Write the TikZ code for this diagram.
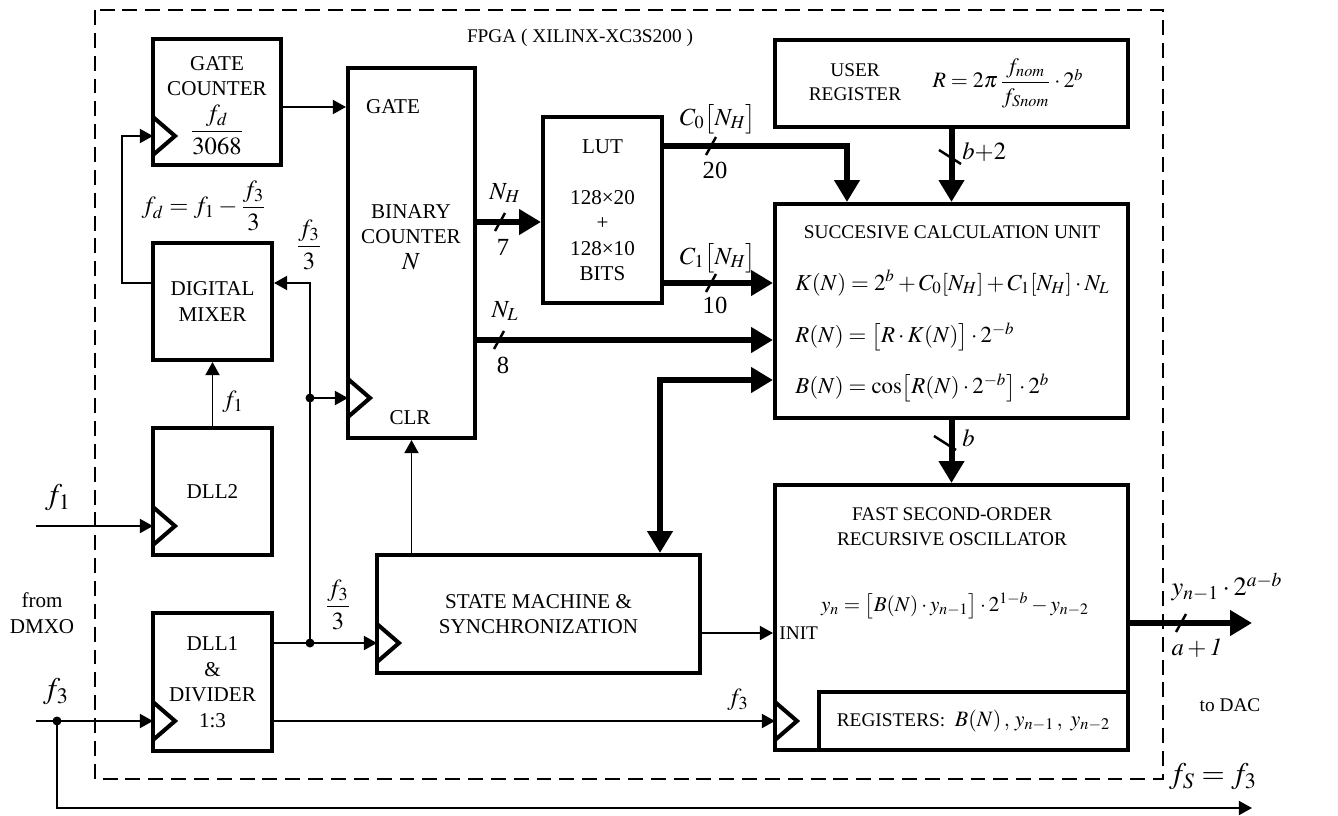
\documentclass[tikz,border=0pt]{standalone}
\usepackage{amsmath}
\usepackage{mathptmx}
\usepackage{fontspec}
\setmainfont{Liberation Serif}
\usetikzlibrary{arrows.meta,positioning}

\newdimen\px \px=0.02cm

\tikzset{
  blk/.style={draw, line width=2.3pt, inner sep=0pt, align=center,
    font=\fontsize{12}{14.5}\selectfont},
  lbl/.style={inner sep=0pt, align=center, font=\fontsize{12}{14.5}\selectfont},
  slbl/.style={inner sep=0pt, align=center, font=\fontsize{11}{14}\selectfont},
  mlbl/.style={inner sep=0pt, font=\fontsize{14}{16}\selectfont},
  biglbl/.style={inner sep=0pt, font=\fontsize{17}{19}\selectfont},
  eq/.style={inner sep=0pt, font=\fontsize{12.5}{15}\selectfont},
  sig/.style={-{Triangle[length=7.5pt,width=8pt]}, line width=1.1pt},
  bus/.style={-{Triangle[length=12.5pt,width=14pt]}, line width=3.4pt},
  busboth/.style={{Triangle[length=12.5pt,width=14pt]}-{Triangle[length=12.5pt,width=14pt]}, line width=3.4pt},
  clk/.style={line width=2.3pt, line join=miter},
  tick/.style={line width=1.4pt},
  dot/.style={circle, fill, inner sep=0pt, minimum size=9*\px},
}

\begin{document}
\begin{tikzpicture}[x=0.02cm, y=-0.02cm]
\useasboundingbox (0,0) rectangle (1338,815);

% FPGA frame
\draw[line width=1.5pt, dash pattern=on 8.5pt off 4.5pt] (95,10) rectangle (1163,779);
\node[slbl] (fpga) at (580,38) {FPGA ( XILINX-XC3S200 )};

% blocks
\node[blk, minimum width=128*\px, minimum height=126*\px] (gate) at (217,102) {};
\node[lbl] (gatectr) at (217,76) {GATE\\COUNTER};
\node[mlbl] (gatediv) at (217,130) {$\dfrac{f_d}{3068}$};
\node[blk, minimum width=127*\px, minimum height=370*\px] (bin) at (411.5,253) {};
\node[lbl] (gatetxt) at (393,107) {GATE};
\node[lbl] (bintxt) at (411,237) {BINARY\\COUNTER\\{\fontsize{14}{16}\selectfont$N$}};
\node[lbl] (clrtxt) at (410,418) {CLR};
\node[blk, minimum width=119*\px, minimum height=117*\px] (mix) at (212.5,301.5) {DIGITAL\\MIXER};
\node[blk, minimum width=119*\px, minimum height=127*\px] (dll2) at (212.5,491.5) {DLL2};
\node[blk, minimum width=119*\px, minimum height=138*\px] (dll1) at (212.5,682) {DLL1\\\&\\DIVIDER\\1:3};
\node[blk, minimum width=323*\px, minimum height=118*\px] (sm) at (538.5,614) {STATE MACHINE \&\\SYNCHRONIZATION};
\node[blk, minimum width=119*\px, minimum height=186*\px] (lut) at (602.5,210) {LUT\\[14.5pt]128×20\\+\\128×10\\BITS};

\node[blk, minimum width=353*\px, minimum height=87*\px] (usr) at (951.5,83.5) {};
\node[slbl] (usrtxt) at (855,82) {USER\\REGISTER};
\node[eq] (rtxt) at (1008,83) {$R = 2\pi\,\dfrac{f_{nom}}{f_{Snom}}\cdot 2^b$};

\node[blk, minimum width=353*\px, minimum height=214*\px] (calc) at (951.5,311) {};
\node[slbl] (calctxt) at (952,232) {SUCCESIVE CALCULATION UNIT};
\node[eq, font=\fontsize{13}{15}\selectfont, anchor=west] (keq) at (795,283) {$K(N) = 2^b + C_0[N_H] + C_1[N_H]\cdot N_L$};
\node[eq, font=\fontsize{13}{15}\selectfont, anchor=west] (req) at (795,337) {$R(N) = \bigl[R\cdot K(N)\bigr]\cdot 2^{-b}$};
\node[eq, font=\fontsize{13}{15}\selectfont, anchor=west] (beq) at (795,388) {$B(N) = \cos\bigl[R(N)\cdot 2^{-b}\bigr]\cdot 2^b$};

\node[blk, minimum width=353*\px, minimum height=265*\px] (osc) at (951.5,617.5) {};
\node[slbl] (osctxt) at (952,527) {FAST SECOND-ORDER\\RECURSIVE OSCILLATOR};
\node[eq, font=\fontsize{12}{15}\selectfont] (yeq) at (955,606) {$y_n = \bigl[B(N)\cdot y_{n-1}\bigr]\cdot 2^{1-b} - y_{n-2}$};
\node[slbl, anchor=west] (inittxt) at (779,633) {INIT};
\node[blk, font=\fontsize{11}{14}\selectfont, minimum width=309*\px, minimum height=58*\px] (regs) at (973.5,721)
  {REGISTERS:\ \ {\fontsize{12.5}{15}\selectfont$B(N)\,,\, y_{n-1}\,,\ y_{n-2}$}};

% clock inputs
\coordinate (gateclk) at (153,136);
\coordinate (binclk) at (348,398);
\coordinate (dll2clk) at (153,526);
\coordinate (dll1clk) at (153,721);
\coordinate (smclk) at (377,643);
\coordinate (oscclk) at (775,721);
\foreach \c in {gateclk,binclk,dll2clk,dll1clk,smclk,oscclk}
  \draw[clk] ([shift={(0,-19)}]\c) -- ([shift={(22,0)}]\c) -- ([shift={(0,19)}]\c);

% junctions and free ends
\coordinate (jA) at (310,398);
\coordinate (jB) at (310,643);
\coordinate (jC) at (57,721);
\coordinate (f1in) at (36,526);
\coordinate (f3in) at (36,721);
\coordinate (fsout) at (1252,808);
\coordinate (dout) at (1252,623);

% clock / control lines
\draw[sig] (gate.east |- gatetxt) -- (bin.west |- gatetxt);
\draw[sig] (mix.west |- 0,283) -- ++(-29,0) |- (gateclk);
\draw[sig] (jB) |- (mix.east |- 0,283);
\draw[sig] (jA) -- (binclk);
\draw[sig] (dll1.east |- smclk) -- (smclk);
\draw[sig] (dll2.north) -- (mix.south);
\draw[sig] (f1in) -- (dll2clk);
\draw[sig] (f3in) -- (dll1clk);
\draw[sig] (jC) |- (fsout);
\draw[sig] (dll1.east |- dll1clk) -- (oscclk);
\draw[sig] (sm.north -| bin.south) -- (bin.south);
\draw[sig] (sm.east |- inittxt) -- (osc.west |- inittxt);
\node[dot] (dA) at (jA) {};
\node[dot] (dB) at (jB) {};
\node[dot] (dC) at (jC) {};

% buses
\draw[busboth] (sm.north -| 660,0) |- (calc.west |- 0,380);
\draw[bus] (bin.east |- 0,222) -- (lut.west |- 0,222);
\draw[bus] (bin.east |- 0,340) -- (calc.west |- 0,340);
\draw[bus] (lut.east |- 0,146) -| (calc.north -| 847,0);
\draw[bus] (lut.east |- 0,283) -- (calc.west |- 0,283);
\draw[bus] (usr.south) -- (calc.north);
\draw[bus] (calc.south) -- (osc.north);
\draw[bus] (osc.east |- 0,623) -- (dout);

% bus width ticks
\draw[tick] (495,231) -- (505,213);
\draw[tick] (494,349) -- (504,331);
\draw[tick] (706,155) -- (716,137);
\draw[tick] (706,292) -- (716,274);
\draw[tick] (1176,632) -- (1186,614);
\draw[tick] (939,150) -- (961,164);
\draw[tick] (934,436) -- (956,450);

% labels
\node[mlbl] (nhtxt) at (505,193) {$N_H$};
\node[mlbl] (w7) at (503,247) {7};
\node[mlbl] (nltxt) at (505,311) {$N_L$};
\node[mlbl] (w8) at (503,365) {8};
\node[mlbl] (c0txt) at (718,119) {$C_0\bigl[N_H\bigr]$};
\node[mlbl] (w20) at (715,170) {20};
\node[mlbl] (c1txt) at (718,258) {$C_1\bigl[N_H\bigr]$};
\node[mlbl] (w10) at (715,305) {10};
\node[mlbl, anchor=west] (wb2) at (962,152) {$b{+}2$};
\node[mlbl, anchor=west] (wb) at (962,438) {$b$};
\node[mlbl] (fdtxt) at (204,206) {$f_d = f_1 - \dfrac{f_3}{3}$};
\node[mlbl] (f3atxt) at (309,245) {$\dfrac{f_3}{3}$};
\node[mlbl] (f3btxt) at (338,605) {$\dfrac{f_3}{3}$};
\node[mlbl] (f1atxt) at (233,402) {$f_1$};
\node[mlbl] (f3ctxt) at (738,700) {$f_3$};
\node[biglbl] (f1txt) at (58,498) {$f_1$};
\node[biglbl] (f3txt) at (56,692) {$f_3$};
\node[lbl] (dmxo) at (42,613) {from\\DMXO};
\node[mlbl, font=\fontsize{15}{17}\selectfont] (ytxt) at (1227,587) {$y_{n-1}\cdot 2^{a-b}$};
\node[mlbl] (wa1) at (1197,648) {$a+\mathit{1}$};
\node[slbl] (dac) at (1230,705) {to DAC};
\node[biglbl] (fstxt) at (1213,777) {$f_S = f_3$};
\end{tikzpicture}
\end{document}
